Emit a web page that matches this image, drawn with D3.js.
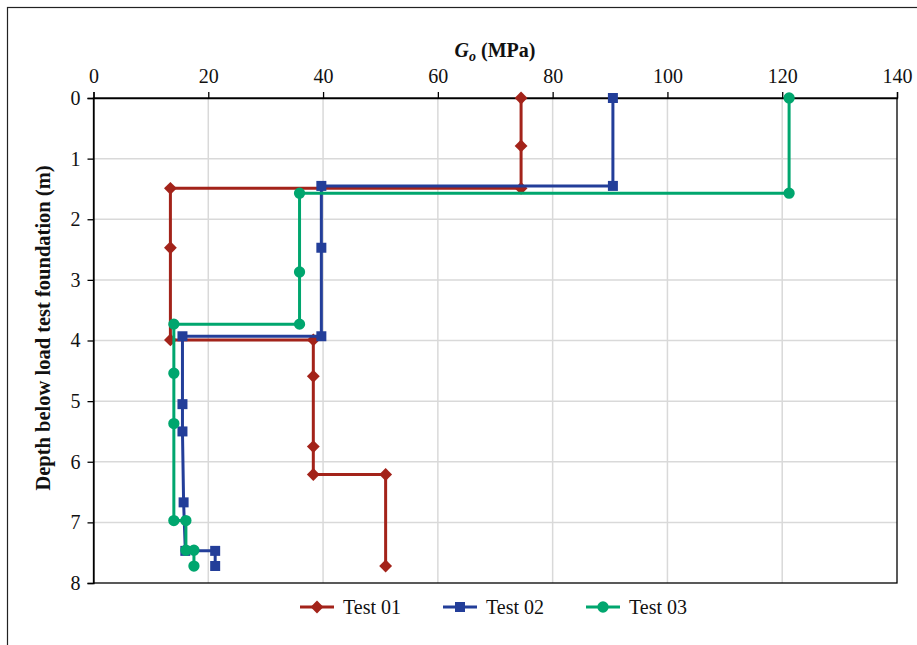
<!DOCTYPE html>
<html>
<head>
<meta charset="utf-8">
<script src="https://cdn.jsdelivr.net/npm/d3@7"></script>
<style>
  body { margin: 0; background: #fff; }
  svg { display: block; }
  svg text { font-family: "Liberation Serif", "DejaVu Serif", serif; }
</style>
</head>
<body>
<div id="chart"></div>
<script>
// G_o (MPa) versus depth (m)
const test01G = [74.5, 74.5, 74.5, 13.4, 13.4, 13.4, 38.3, 38.3, 38.3, 38.3, 50.9, 50.9];
const test01D = [0, 0.79, 1.49, 1.49, 2.47, 3.99, 3.99, 4.59, 5.75, 6.21, 6.21, 7.72];
const test02G = [90.5, 90.5, 39.7, 39.7, 39.7, 15.5, 15.5, 15.5, 15.7, 16.0, 21.2, 21.2];
const test02D = [0, 1.45, 1.45, 2.47, 3.93, 3.93, 5.05, 5.5, 6.67, 7.47, 7.47, 7.72];
const test03G = [121.2, 121.2, 35.9, 35.9, 35.9, 14.0, 14.0, 14.0, 14.0, 16.1, 16.1, 17.5, 17.5];
const test03D = [0, 1.57, 1.57, 2.87, 3.73, 3.73, 4.54, 5.37, 6.97, 6.97, 7.46, 7.46, 7.72];
const seriesNames = ["Test 01", "Test 02", "Test 03"];
const xTicks = [0, 20, 40, 60, 80, 100, 120, 140];
const yTicks = [0, 1, 2, 3, 4, 5, 6, 7, 8];

const width = 917, height = 645;
const colors = ["#A3231A", "#233E99", "#00A66E"];
const symbols = [d3.symbolDiamond2, d3.symbolSquare, d3.symbolCircle];
const markerSizes = [105, 100, 100];

const series = [
  {name: seriesNames[0], pts: test01G.map((g, i) => [g, test01D[i]])},
  {name: seriesNames[1], pts: test02G.map((g, i) => [g, test02D[i]])},
  {name: seriesNames[2], pts: test03G.map((g, i) => [g, test03D[i]])}
];

const x = d3.scaleLinear().domain([0, 140]).range([93.5, 897]);
const y = d3.scaleLinear().domain([0, 8]).range([98, 583]);

const svg = d3.select("#chart").append("svg")
  .attr("width", width)
  .attr("height", height);

// outer frame of the figure
svg.append("rect")
  .attr("x", 7.5).attr("y", 7.5)
  .attr("width", width + 20).attr("height", height + 20)
  .attr("fill", "none")
  .attr("stroke", "#222")
  .attr("stroke-width", 1.2);

// gridlines
svg.append("g")
  .selectAll("line")
  .data(xTicks.slice(1, -1))
  .join("line")
  .attr("x1", d => x(d)).attr("x2", d => x(d))
  .attr("y1", y(0)).attr("y2", y(8))
  .attr("stroke", "#d9d9d9").attr("stroke-width", 1.5);
svg.append("g")
  .selectAll("line")
  .data(yTicks.slice(1, -1))
  .join("line")
  .attr("x1", x(0)).attr("x2", x(140))
  .attr("y1", d => y(d)).attr("y2", d => y(d))
  .attr("stroke", "#d9d9d9").attr("stroke-width", 1.5);

// plot frame
svg.append("rect")
  .attr("x", x(0)).attr("y", y(0))
  .attr("width", x(140) - x(0)).attr("height", y(8) - y(0))
  .attr("fill", "none")
  .attr("stroke", "#000").attr("stroke-width", 1.3);

// axes
const xAxis = svg.append("g")
  .attr("transform", `translate(0,${y(0)})`)
  .call(d3.axisTop(x).tickValues(xTicks).tickSize(6).tickPadding(9));
const yAxis = svg.append("g")
  .attr("transform", `translate(${x(0)},0)`)
  .call(d3.axisLeft(y).tickValues(yTicks).tickSize(6).tickPadding(7));
[xAxis, yAxis].forEach(a => {
  a.attr("font-family", null).attr("font-size", null);
  a.select(".domain").attr("stroke", "#000").attr("stroke-width", 1.3);
  a.selectAll(".tick line").attr("stroke", "#000").attr("stroke-width", 1.3);
  a.selectAll(".tick text")
    .style("font-size", "20px")
    .attr("fill", "#111");
});

// axis titles
const xt = svg.append("text")
  .attr("x", 495)
  .attr("y", 57)
  .attr("text-anchor", "middle")
  .style("font-size", "20px")
  .attr("font-weight", "bold")
  .attr("fill", "#111");
xt.append("tspan").attr("font-style", "italic").text("G");
xt.append("tspan").attr("font-style", "italic").style("font-size", "14px").attr("dy", 4).text("o");
xt.append("tspan").attr("dy", -4).text(" (MPa)");

svg.append("text")
  .attr("transform", "translate(50,328) rotate(-90)")
  .attr("text-anchor", "middle")
  .style("font-size", "20.5px")
  .attr("font-weight", "bold")
  .attr("fill", "#111")
  .text("Depth below load test foundation (m)");

// lines and markers
const line = d3.line().x(d => x(d[0])).y(d => y(d[1]));

series.forEach((s, i) => {
  const g = svg.append("g");
  g.append("path")
    .attr("d", line(s.pts))
    .attr("fill", "none")
    .attr("stroke", colors[i])
    .attr("stroke-width", 3);
  g.selectAll("path.m")
    .data(s.pts)
    .join("path")
    .attr("class", "m")
    .attr("transform", d => `translate(${x(d[0])},${y(d[1])})`)
    .attr("d", d3.symbol(symbols[i], markerSizes[i]))
    .attr("fill", colors[i]);
});

// legend
const legend = svg.append("g").attr("transform", "translate(300,607)");
seriesNames.forEach((name, i) => {
  const lg = legend.append("g").attr("transform", `translate(${i * 143},0)`);
  lg.append("line")
    .attr("x1", 0).attr("x2", 34)
    .attr("stroke", colors[i]).attr("stroke-width", 3);
  lg.append("path")
    .attr("transform", "translate(17,0)")
    .attr("d", d3.symbol(symbols[i], markerSizes[i]))
    .attr("fill", colors[i]);
  lg.append("text")
    .attr("x", 43).attr("y", 6.5)
    .style("font-size", "20px")
    .attr("fill", "#111")
    .text(name);
});
</script>
</body>
</html>
